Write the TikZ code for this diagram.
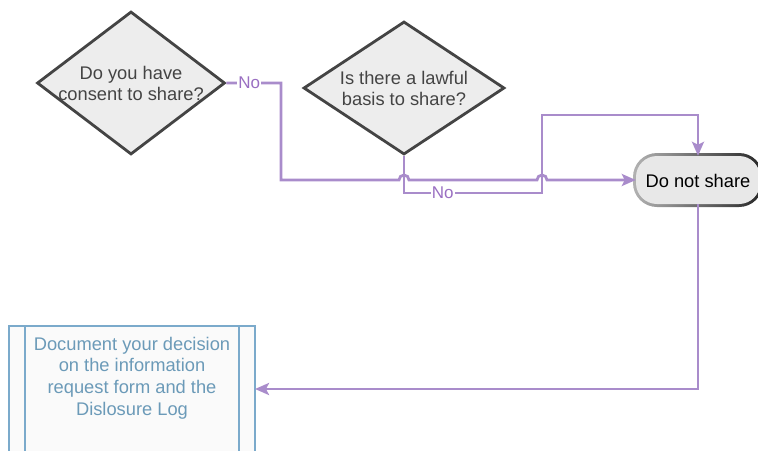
\documentclass[tikz,border=0pt]{standalone}
\usepackage{fontspec}
\setmainfont{Liberation Sans}
\usetikzlibrary{shapes.geometric,arrows.meta,calc}
\definecolor{linec}{HTML}{A98CCB}
\definecolor{noc}{HTML}{9A6FC2}
\definecolor{diaf}{HTML}{EDEDED}
\definecolor{dias}{HTML}{444444}
\definecolor{docs}{HTML}{7BAACB}
\definecolor{doct}{HTML}{6B9AB8}
\begin{document}
\begin{tikzpicture}[x=1pt,y=-1pt,
  dia/.style={diamond,draw=dias,fill=diaf,line width=2.8pt,inner sep=0pt,minimum width=#1},
  qtext/.style={align=center,text=dias,font=\fontsize{18.3}{21}\selectfont,inner sep=0pt},
  conn/.style={draw=linec,line width=2.8pt,line join=miter,-{Stealth[length=14pt,width=12pt,inset=3pt]}},
  nolab/.style={fill=white,text=noc,font=\fontsize{17}{18}\selectfont,inner sep=1pt},
  pillb/.style={rounded corners=24pt,minimum width=130pt,minimum height=54pt,inner sep=0pt},
]
\useasboundingbox (0,0) rectangle (758,450);
\clip (0,0) rectangle (758,450);

% decision 1
\node[dia=188pt,minimum height=143pt] (d1) at (131,83) {};
\node[qtext] (t1) at (131,83) {Do you have\\consent to share?};
% decision 2
\node[dia=201pt,minimum height=133pt] (d2) at (404,88) {};
\node[qtext] (t2) at (404,88) {Is there a lawful\\basis to share?};

% Do not share
\node[pillb,left color=black!30,right color=black!85,shading angle=90] (dnsb) at (698,180) {};
\node[rounded corners=21pt,minimum width=124pt,minimum height=48pt,inner sep=0pt,fill=black!9] (dns) at (698,180) {};
\node[inner sep=0pt,font=\fontsize{18.3}{21}\selectfont] (dnst) at (698,181) {Do not share};

% document box
\node[draw=docs,fill=white!98!black,line width=2.8pt,minimum width=246pt,minimum height=170pt,anchor=north west,inner sep=0pt,outer sep=0pt] (doc) at (9,326) {};
\draw[draw=docs,line width=2.8pt] ($(doc.north west)+(16,0)$) -- ($(doc.south west)+(16,0)$);
\draw[draw=docs,line width=2.8pt] ($(doc.north east)+(-16,0)$) -- ($(doc.south east)+(-16,0)$);
\node[align=center,text=doct,font=\fontsize{18.3}{21.7}\selectfont,inner sep=0pt] (dt) at (132,378) {Document your decision\\on the information\\request form and the\\Dislosure Log};

% coordinates
\coordinate (c1) at (281,83);
\coordinate (j1) at (404,180);
\coordinate (j2) at (542,180);
\coordinate (c2) at (404,193);
\coordinate (c3) at (542,193);
\coordinate (c4) at (542,115);
\coordinate (docin) at (255,389);

% connector 2 (lawful basis -> do not share)
\draw[conn] (d2.south) -- (c2) -- node[nolab,pos=0.28] (no2) {No} (c3) -- (c4) -| (dns.north);
% connector 1 (consent -> do not share), hops over verticals
\draw[conn] (d1.east) -- node[nolab,pos=0.42] (no1) {No} (c1) |- ($(j1)-(5,0)$)
  arc[start angle=180,end angle=0,radius=5pt] -- ($(j2)-(5,0)$)
  arc[start angle=180,end angle=0,radius=5pt] -- (dns.west);
% connector 3
\draw[conn] (dns.south) |- (docin);
\end{tikzpicture}
\end{document}
